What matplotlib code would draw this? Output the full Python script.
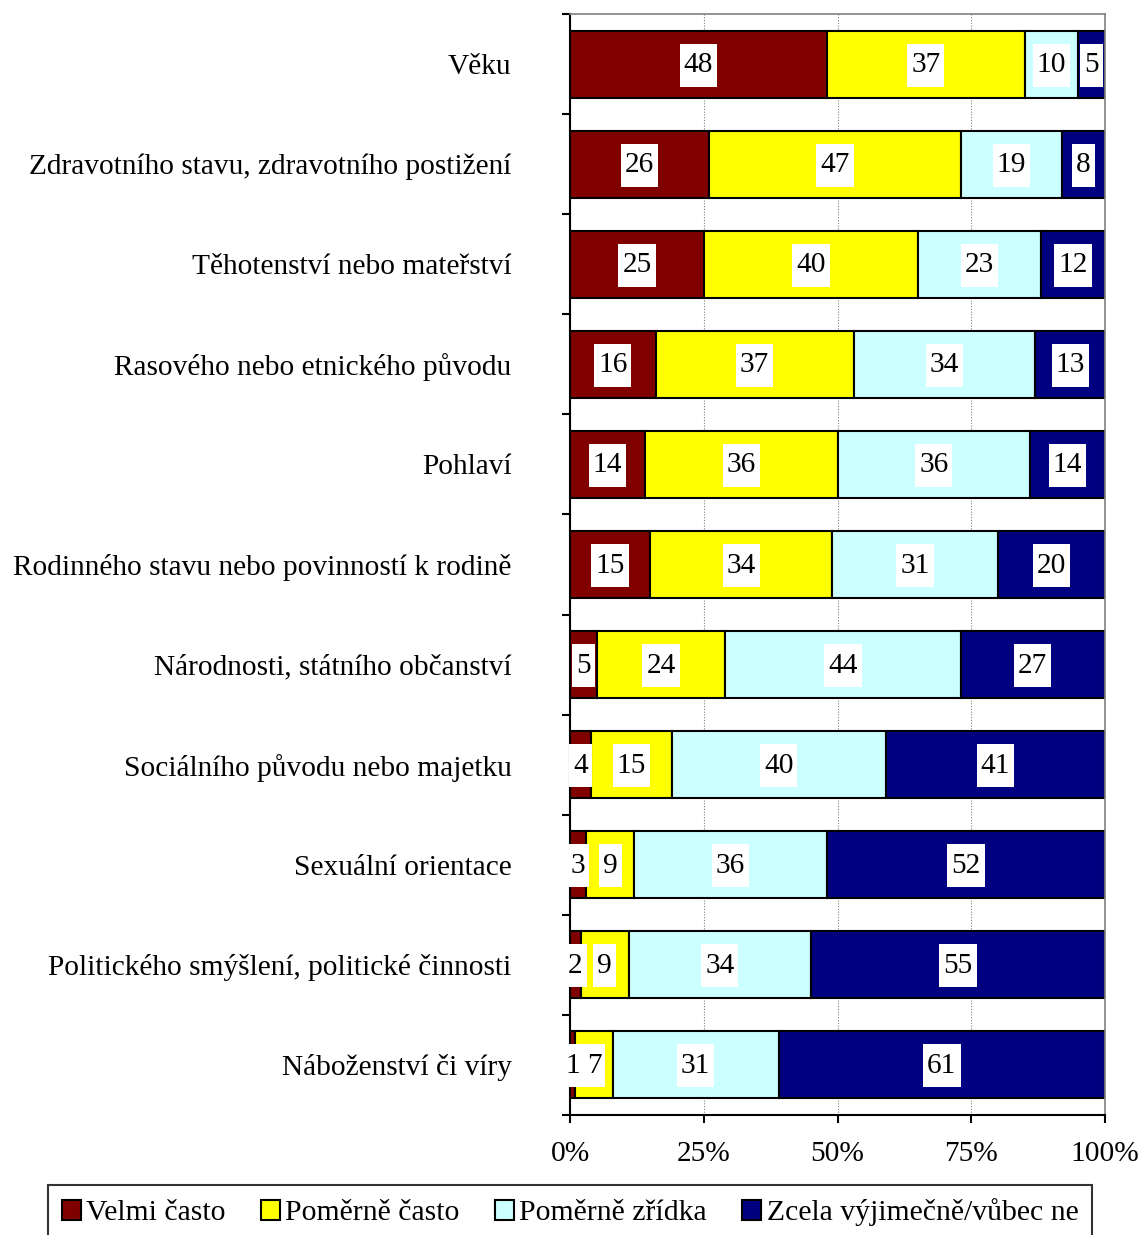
import matplotlib
matplotlib.use("Agg")
import matplotlib.pyplot as plt
import numpy as np
from matplotlib.path import Path

plt.rcParams['font.family'] = ['Liberation Serif', 'DejaVu Serif']

categories = [
    "Věku",
    "Zdravotního stavu, zdravotního postižení",
    "Těhotenství nebo mateřství",
    "Rasového nebo etnického původu",
    "Pohlaví",
    "Rodinného stavu nebo povinností k rodině",
    "Národnosti, státního občanství",
    "Sociálního původu nebo majetku",
    "Sexuální orientace",
    "Politického smýšlení, politické činnosti",
    "Náboženství či víry",
]
velmi_casto = [48, 26, 25, 16, 14, 15, 5, 4, 3, 2, 1]
pomerne_casto = [37, 47, 40, 37, 36, 34, 24, 15, 9, 9, 7]
pomerne_zridka = [10, 19, 23, 34, 36, 31, 44, 40, 36, 34, 31]
zcela_vyjimecne = [5, 8, 12, 13, 14, 20, 27, 41, 52, 55, 61]

series_names = ["Velmi často", "Poměrně často", "Poměrně zřídka", "Zcela výjimečně/vůbec ne"]
colors = ["#800000", "#FFFF00", "#CCFFFF", "#000080"]
xtick_labels = ["0%", "25%", "50%", "75%", "100%"]

FS = 21.15
LFS = 21.4

W, H = 1140, 1235
fig = plt.figure(figsize=(W / 100, H / 100), dpi=100)
ax = fig.add_axes([570 / W, 1 - 1115 / H, (1105 - 570) / W, (1115 - 14) / H])

n = len(categories)
y = np.arange(n)
series = [velmi_casto, pomerne_casto, pomerne_zridka, zcela_vyjimecne]

# custom asymmetric white label box
def label_box(x0, y0, width, height, mutation_size):
    px = 4.0
    py = 8.5
    x0 -= px; y0 -= py; x1 = x0 + width + 2 * px; y1 = y0 + height + 2 * py
    return Path([(x0, y0), (x1, y0), (x1, y1), (x0, y1), (x0, y0)],
                [Path.MOVETO, Path.LINETO, Path.LINETO, Path.LINETO, Path.CLOSEPOLY])

ax.set_axisbelow(True)
ax.grid(axis='x', color='#808080', linestyle=(0, (1, 1.5)), linewidth=0.8)

left = np.zeros(n)
for vals, name, col in zip(series, series_names, colors):
    vals = np.array(vals, dtype=float)
    ax.barh(y, vals, left=left, height=0.67, color=col, edgecolor='black',
            linewidth=1.5, label=name, zorder=2)
    for yi, (l, v) in enumerate(zip(left, vals)):
        ax.text(l + v / 2, yi + 0.01, f"{int(v)}", ha='center', va='center',
                fontsize=FS, color='black', zorder=4,
                bbox=dict(boxstyle=label_box, facecolor='white', edgecolor='none'))
    left += vals

ax.set_xlim(0, 100)
ax.set_ylim(n - 0.5, -0.5)
ax.set_xticks([0, 25, 50, 75, 100])
ax.set_xticklabels(xtick_labels, fontsize=FS)
ax.set_yticks(y)
ax.set_yticklabels(categories, fontsize=FS)
ax.set_yticks(np.arange(-0.5, n + 0.5, 1), minor=True)
ax.tick_params(axis='y', which='major', length=0, pad=42)
ax.tick_params(axis='y', which='minor', length=6, width=1.5, direction='out', color='black')
ax.tick_params(axis='x', which='major', length=6, width=1.5, direction='out', pad=13)

for s in ['left', 'bottom']:
    ax.spines[s].set_color('black')
    ax.spines[s].set_linewidth(1.5)
for s in ['top', 'right']:
    ax.spines[s].set_color('#808080')
    ax.spines[s].set_linewidth(1.2)

leg = fig.legend(loc='upper center', bbox_to_anchor=(0.5, 1 - 1185 / H), ncol=4,
                 fontsize=LFS, frameon=True, fancybox=False, edgecolor='black',
                 handlelength=0.64, handleheight=0.64, handletextpad=0.17,
                 columnspacing=1.2, borderpad=0.45, borderaxespad=0)
leg.get_frame().set_linewidth(1.5)
for h in leg.legend_handles:
    h.set_edgecolor('black')
    h.set_linewidth(1.5)

fig.savefig("out.png", dpi=100)
